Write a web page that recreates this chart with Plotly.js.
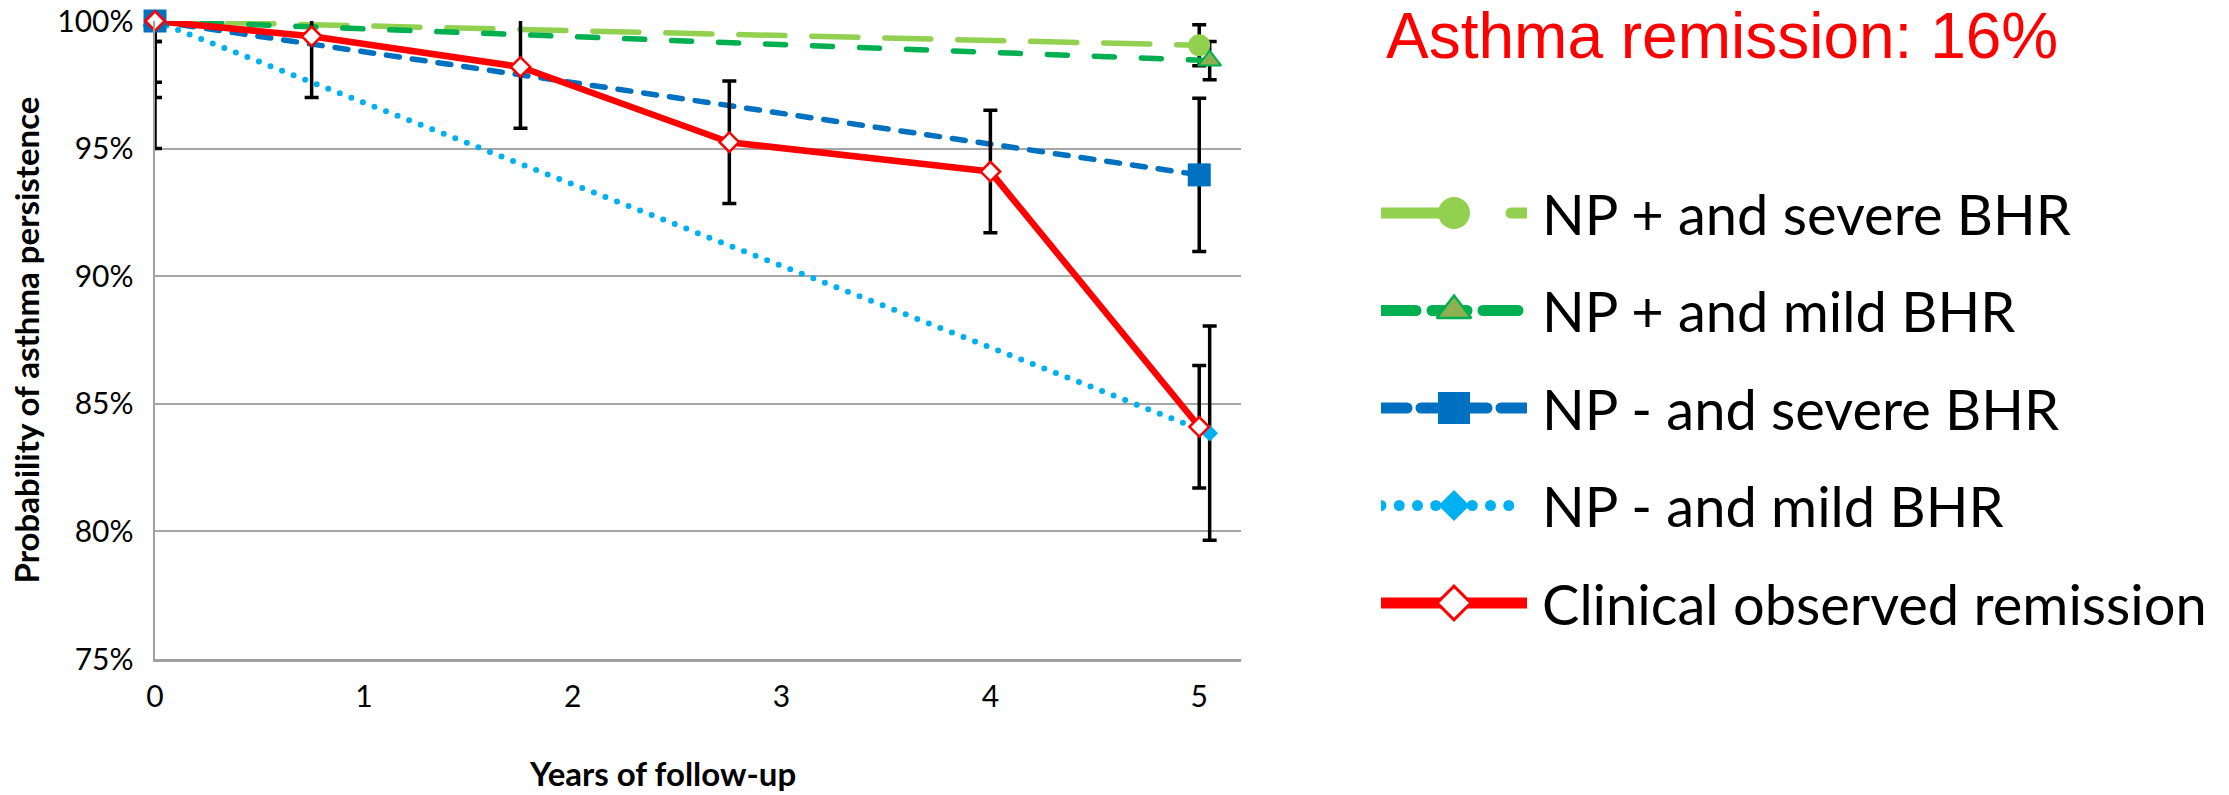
<!DOCTYPE html>
<html>
<head>
<meta charset="utf-8">
<script src="https://cdn.plot.ly/plotly-3.0.1.min.js"></script>
<style>
  html, body { margin: 0; padding: 0; background: #fff; }
  #chart { width: 2229px; height: 795px; }
  .js-line { stroke-linecap: round; stroke-linejoin: round; }
</style>
</head>
<body>
<div id="chart"></div>
<script>
// ---- data ----
const years = [0, 0.75, 1.75, 2.75, 4, 5];
const clinicalRemission = [100, 99.4, 98.2, 95.25, 94.1, 84.1];
const clinicalError = [2.4, 2.4, 2.4, 2.4, 2.4, 2.4];

const modelYearsA = [0, 5];
const modelYearsB = [0, 5.05];
const npPosSevere = [100, 99.05];
const npPosSevereError = [0.8, 0.8];
const npPosMild = [100, 98.45];
const npPosMildError = [0.8, 0.75];
const npNegSevere = [100, 93.97];
const npNegSevereError = [3, 3];
const npNegMild = [100, 83.85];
const npNegMildError = [5, 4.2];

const seriesNames = ['NP + and severe BHR', 'NP + and mild BHR', 'NP - and severe BHR', 'NP - and mild BHR', 'Clinical observed remission'];
const xTickVals = [0, 1, 2, 3, 4, 5];
const yTickVals = [75, 80, 85, 90, 95, 100];
const yTickText = ['75%', '80%', '85%', '90%', '95%', '100%'];
const chartTitle = 'Asthma remission: 16%';
const xTitle = 'Years of follow-up';
const yTitle = 'Probability of asthma persistence';

// legend glyph geometry (in the legend's own unit axes)
const legendRows = [0, 1, 2, 3, 4];
const legendLineX = [0, 1];
const legendMarkerX = [0.5];

// ---- styles ----
const styles = [
  {x: modelYearsA, y: npPosSevere, err: npPosSevereError, color: '#92D050', width: 5.5, dash: '46px,27px',
   marker: {symbol: 'circle', size: 22, color: '#92D050'},
   legDash: '68px,62px', legMarker: {symbol: 'circle', size: 32, color: '#92D050'}},
  {x: modelYearsB, y: npPosMild, err: npPosMildError, color: '#00B050', width: 5.5, dash: '20px,27px',
   marker: {symbol: 'triangle-up', size: 20, color: '#8FB050', line: {color: '#00B050', width: 2}},
   legDash: '35px,16px', legMarker: {symbol: 'triangle-up', size: 30, color: '#8FB050', line: {color: '#00B050', width: 2.5}}},
  {x: modelYearsA, y: npNegSevere, err: npNegSevereError, color: '#0070C0', width: 5.5, dash: '13px,13px',
   marker: {symbol: 'square', size: 23, color: '#0070C0'},
   legDash: '26px,14px', legMarker: {symbol: 'square', size: 32, color: '#0070C0'}},
  {x: modelYearsB, y: npNegMild, err: npNegMildError, color: '#00B0F0', width: 6, dash: '0px,12.4px',
   marker: {symbol: 'diamond', size: 13, color: '#00B0F0'},
   legDash: '0px,18.25px', legMarker: {symbol: 'diamond', size: 24, color: '#00B0F0'}},
  {x: years, y: clinicalRemission, err: clinicalError, color: '#FF0000', width: 6.5, dash: 'solid',
   marker: {symbol: 'diamond', size: 15, color: '#FFFFFF', line: {color: '#FF0000', width: 2.5}},
   legDash: 'solid', legMarker: {symbol: 'diamond', size: 26, color: '#FFFFFF', line: {color: '#FF0000', width: 3}}}
];

const traces = [];
// lines + error bars (clipped to the plot area)
styles.forEach((s, i) => {
  traces.push({
    type: 'scatter', mode: 'lines', x: s.x, y: s.y, name: seriesNames[i],
    xaxis: 'x', yaxis: 'y', showlegend: false, hoverinfo: 'skip',
    line: {color: s.color, width: s.width, dash: s.dash},
    error_y: {type: 'data', array: s.err, visible: true, color: '#000000', thickness: 3.5, width: 7}
  });
});
// markers (overlay axes, allowed to overflow the plot edge)
styles.forEach((s, i) => {
  traces.push({
    type: 'scatter', mode: 'markers', x: s.x, y: s.y, name: seriesNames[i],
    xaxis: 'x3', yaxis: 'y3', showlegend: false, cliponaxis: false, hoverinfo: 'skip',
    marker: s.marker
  });
});
// legend glyphs
styles.forEach((s, i) => {
  const row = legendRows[i];
  traces.push({
    type: 'scatter', mode: 'lines', x: legendLineX, y: legendLineX.map(() => row),
    xaxis: 'x4', yaxis: 'y4', showlegend: false, cliponaxis: false, hoverinfo: 'skip',
    line: {color: s.color, width: 11, dash: s.legDash}
  });
  traces.push({
    type: 'scatter', mode: 'markers', x: legendMarkerX, y: legendMarkerX.map(() => row),
    xaxis: 'x4', yaxis: 'y4', showlegend: false, cliponaxis: false, hoverinfo: 'skip',
    marker: s.legMarker
  });
});

const W = 2229, H = 795;
const plotL = 155, plotR = 1241, plotT = 21, plotB = 659;
const xDom = [plotL / W, plotR / W];
const yDom = [1 - plotB / H, 1 - plotT / H];
const xRange = [0, 5.2];
const yRange = [75, 100];

const tickFont = {family: 'Lato, "Open Sans", sans-serif', size: 30, color: '#000000'};

const annotations = seriesNames.map((name, i) => ({
  text: name, xref: 'paper', yref: 'y4', x: 1540 / W, y: legendRows[i],
  xanchor: 'left', yanchor: 'middle', showarrow: false,
  font: {family: 'Lato, "Open Sans", sans-serif', size: 56, color: '#000000'}
}));
annotations.push({
  text: '<b>' + xTitle + '</b>', xref: 'paper', yref: 'paper', x: 662 / W, y: 1 - 773 / H,
  xanchor: 'center', yanchor: 'middle', showarrow: false,
  font: {family: 'Lato, "Open Sans", sans-serif', size: 33, color: '#000000'}
});

const layout = {
  width: W, height: H,
  margin: {l: 0, r: 0, t: 0, b: 0, pad: 0},
  paper_bgcolor: '#FFFFFF', plot_bgcolor: 'rgba(0,0,0,0)',
  showlegend: false,
  title: {
    text: chartTitle, xref: 'paper', yref: 'paper', x: 1386 / W, xanchor: 'left',
    y: 1 - 36 / H, yanchor: 'middle',
    font: {family: '"Liberation Sans", Arial, sans-serif', size: 64, color: '#FF0000'}
  },
  xaxis: {
    domain: xDom, range: xRange, autorange: false, tickvals: xTickVals,
    showgrid: false, zeroline: false, showline: true, linecolor: '#A0A0A0', linewidth: 2.5,
    ticks: 'outside', ticklen: 9, tickcolor: 'rgba(0,0,0,0)', tickfont: tickFont, anchor: 'y'
  },
  yaxis: {
    domain: yDom, range: yRange, autorange: false, tickmode: 'array', tickvals: yTickVals, ticktext: yTickText,
    showgrid: true, gridcolor: '#A6A6A6', gridwidth: 2,
    zeroline: false, showline: true, linecolor: '#A0A0A0', linewidth: 2.5,
    ticks: 'outside', ticklen: 13, tickcolor: 'rgba(0,0,0,0)', tickfont: tickFont, anchor: 'x',
    title: {text: '<b>' + yTitle + '</b>', standoff: 8,
            font: {family: 'Lato, "Open Sans", sans-serif', size: 33, color: '#000000'}}
  },
  xaxis3: {overlaying: 'x', range: xRange, autorange: false, visible: false, anchor: 'y3'},
  yaxis3: {overlaying: 'y', range: yRange, autorange: false, visible: false, anchor: 'x3'},
  xaxis4: {domain: [1381 / W, 1527 / W], range: [0, 1], autorange: false, visible: false, anchor: 'y4'},
  yaxis4: {domain: [1 - 651.75 / H, 1 - 164.25 / H], range: [4.5, -0.5], autorange: false, visible: false, anchor: 'x4'},
  annotations: annotations
};

Plotly.newPlot('chart', traces, layout, {displayModeBar: false, staticPlot: true});
</script>
</body>
</html>
